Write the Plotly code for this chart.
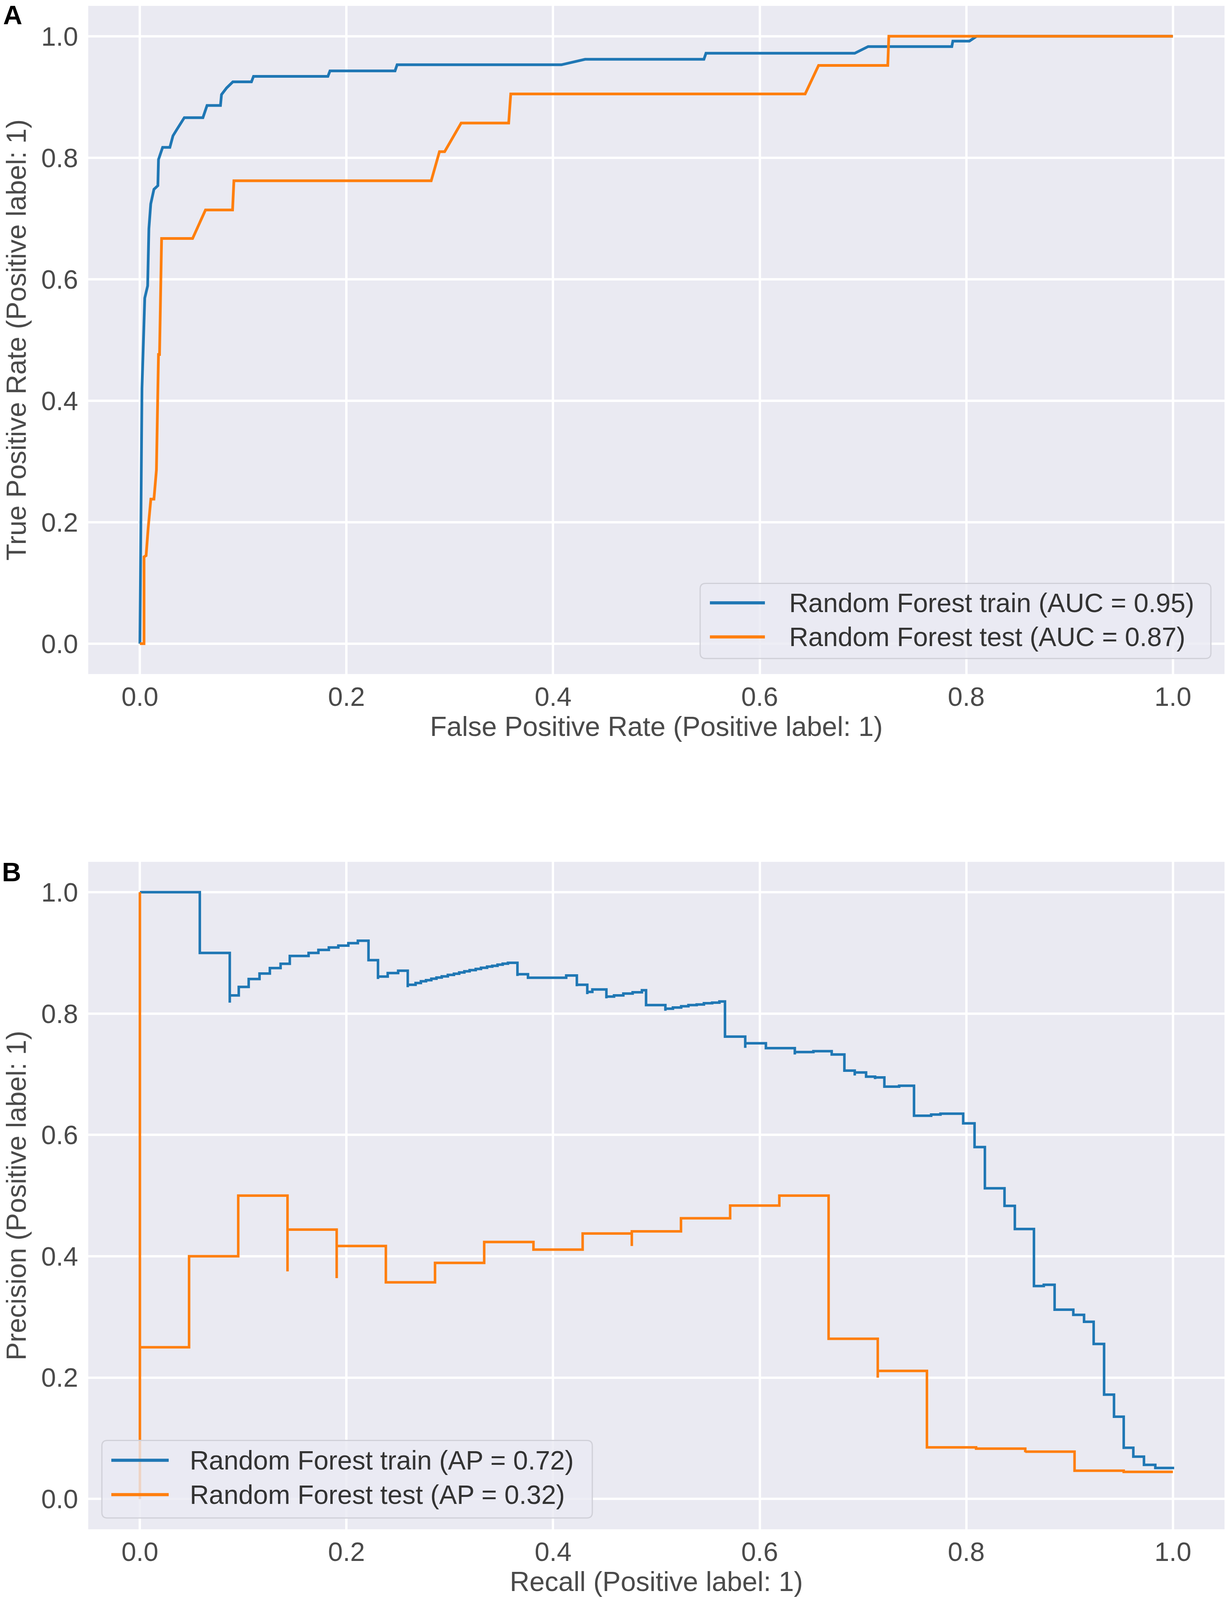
import plotly.graph_objects as go

# ---------------- data ----------------
roc_train_fpr = [0.0, 0.001, 0.002, 0.0047, 0.0075, 0.0087, 0.0105, 0.0136, 0.0174, 0.018, 0.022, 0.029,
                 0.032, 0.0356, 0.043, 0.061, 0.065, 0.078, 0.079, 0.084, 0.09, 0.108, 0.110, 0.182, 0.184,
                 0.247, 0.249, 0.408, 0.431, 0.546, 0.548, 0.692, 0.705, 0.786, 0.787, 0.803, 0.810, 1.0]
roc_train_tpr = [0.0, 0.22, 0.42, 0.569, 0.589, 0.683, 0.724, 0.748, 0.754, 0.797, 0.817, 0.817,
                 0.836, 0.846, 0.866, 0.866, 0.886, 0.886, 0.904, 0.915, 0.925, 0.925, 0.934, 0.934, 0.943,
                 0.943, 0.953, 0.953, 0.962, 0.962, 0.972, 0.972, 0.983, 0.983, 0.992, 0.992, 1.0, 1.0]

roc_test_fpr = [0.0, 0.004, 0.004, 0.006, 0.008, 0.0106, 0.0136, 0.016, 0.018, 0.019, 0.021, 0.051,
                0.0635, 0.0897, 0.091, 0.282, 0.290, 0.295, 0.311, 0.357, 0.359, 0.644, 0.657, 0.724,
                0.725, 1.0]
roc_test_tpr = [0.0, 0.0, 0.143, 0.145, 0.19, 0.238, 0.238, 0.286, 0.476, 0.476, 0.667, 0.667,
                0.714, 0.714, 0.762, 0.762, 0.810, 0.810, 0.857, 0.857, 0.905, 0.905, 0.952, 0.952,
                1.0, 1.0]

pr_train_recall = [0.0, 0.058, 0.087, 0.087, 0.0957, 0.1053, 0.1158, 0.1258, 0.1362, 0.1451, 0.1633,
                   0.1728, 0.1829, 0.1921, 0.2018, 0.211, 0.2213, 0.2305, 0.2305, 0.2399, 0.25, 0.2593,
                   0.2593, 0.2669, 0.2720, 0.2770, 0.2821, 0.2871, 0.2922, 0.2981, 0.3040, 0.3091,
                   0.3141, 0.3192, 0.3251, 0.3302, 0.3361, 0.3411, 0.3462, 0.3512, 0.3563, 0.3655,
                   0.3655, 0.3757, 0.4127, 0.423, 0.423, 0.4331, 0.4331, 0.438, 0.4516, 0.4516, 0.459,
                   0.468, 0.477, 0.486, 0.490, 0.5087, 0.5087, 0.516, 0.524, 0.531, 0.539, 0.546, 0.554,
                   0.561, 0.5664, 0.586, 0.586, 0.606, 0.634, 0.634, 0.652, 0.6697, 0.682, 0.692, 0.692,
                   0.703, 0.7117, 0.7117, 0.7207, 0.735, 0.7494, 0.766, 0.775, 0.797, 0.808, 0.818,
                   0.837, 0.847, 0.8655, 0.875, 0.8855, 0.9036, 0.914, 0.9233, 0.9334, 0.943, 0.9524,
                   0.9617, 0.972, 0.983, 1.0]
pr_train_precision = [1.0, 0.90, 0.818, 0.830, 0.844, 0.857, 0.866, 0.875, 0.882, 0.895, 0.900,
                      0.905, 0.909, 0.912, 0.916, 0.920, 0.888, 0.857, 0.861, 0.8667, 0.8706, 0.8435,
                      0.8474, 0.8503, 0.8532, 0.8551, 0.8574, 0.8594, 0.8613, 0.8638, 0.8657, 0.8677,
                      0.8696, 0.8716, 0.8735, 0.8754, 0.8774, 0.8787, 0.8806, 0.8822, 0.8837, 0.862,
                      0.8648, 0.859, 0.8628, 0.845, 0.8474, 0.832, 0.8357, 0.8397, 0.8251, 0.828, 0.830,
                      0.833, 0.835, 0.8385, 0.814, 0.8046, 0.808, 0.810, 0.812, 0.814, 0.815, 0.817, 0.818,
                      0.820, 0.762, 0.7435, 0.751, 0.743, 0.7325, 0.7365, 0.738, 0.7325, 0.706, 0.698, 0.703,
                      0.696, 0.692, 0.6947, 0.6796, 0.681, 0.6316, 0.6335, 0.635, 0.619, 0.580, 0.512,
                      0.483, 0.445, 0.351, 0.353, 0.312, 0.3035, 0.292, 0.2555, 0.172, 0.1355, 0.0844,
                      0.0697, 0.0563, 0.051, 0.049]

pr_test_recall = [0.0, 0.0, 0.0, 0.0476, 0.0952, 0.1429, 0.1429, 0.1905, 0.1905, 0.2381, 0.2857,
                  0.3333, 0.381, 0.4286, 0.4762, 0.4762, 0.5238, 0.5714, 0.619, 0.6667, 0.7143, 0.7143,
                  0.7619, 0.8095, 0.8571, 0.8571, 0.9048, 0.9524, 1.0]
pr_test_precision = [0.0, 1.0, 0.25, 0.40, 0.50, 0.375, 0.444, 0.364, 0.417, 0.357, 0.389,
                     0.4235, 0.411, 0.4375, 0.417, 0.441, 0.4626, 0.4835, 0.50, 0.264, 0.20, 0.211,
                     0.085, 0.083, 0.077, 0.078, 0.0466, 0.0447, 0.0447]

tick_vals = [0.0, 0.2, 0.4, 0.6, 0.8, 1.0]
tick_text = ["0.0", "0.2", "0.4", "0.6", "0.8", "1.0"]

roc_names = ["Random Forest train (AUC = 0.95)", "Random Forest test (AUC = 0.87)"]
pr_names = ["Random Forest train (AP = 0.72)", "Random Forest test (AP = 0.32)"]

BLUE = "#1f77b4"
ORANGE = "#ff7f0e"
BG = "#eaeaf2"
FONT = "Arial, 'Liberation Sans', sans-serif"
TICK_COLOR = "#4a4a4a"

fig = go.Figure()

fig.add_trace(go.Scatter(x=roc_train_fpr, y=roc_train_tpr, mode="lines", name=roc_names[0],
                         line=dict(color=BLUE, width=7), xaxis="x", yaxis="y", showlegend=False))
fig.add_trace(go.Scatter(x=roc_test_fpr, y=roc_test_tpr, mode="lines", name=roc_names[1],
                         line=dict(color=ORANGE, width=7), xaxis="x", yaxis="y", showlegend=False))
fig.add_trace(go.Scatter(x=pr_train_recall, y=pr_train_precision, mode="lines", name=pr_names[0],
                         line=dict(color=BLUE, width=6.5, shape="hv"), xaxis="x2", yaxis="y2",
                         showlegend=False))
fig.add_trace(go.Scatter(x=pr_test_recall, y=pr_test_precision, mode="lines", name=pr_names[1],
                         line=dict(color=ORANGE, width=6.5, shape="hv"), xaxis="x2", yaxis="y2",
                         showlegend=False))

axis_common = dict(
    range=[-0.05, 1.05], tickvals=tick_vals, ticktext=tick_text,
    showgrid=True, gridcolor="white", gridwidth=6, zeroline=False, showline=False,
    ticks="", tickfont=dict(family=FONT, size=68, color=TICK_COLOR),
)
title_font = dict(family=FONT, size=70, color=TICK_COLOR)

FIG_W, FIG_H = 3150, 4090

fig.update_layout(
    width=FIG_W, height=FIG_H,
    margin=dict(l=226, r=14, t=15, b=175, autoexpand=False),
    paper_bgcolor="white", plot_bgcolor=BG,
    font=dict(family=FONT),
    showlegend=False,
    xaxis=dict(axis_common, domain=[0, 1], anchor="y", ticklabelstandoff=12,
               title=dict(text="False Positive Rate (Positive label: 1)", font=title_font, standoff=6)),
    yaxis=dict(axis_common, domain=[0.5614, 1.0], anchor="x", ticklabelstandoff=25,
               title=dict(text="True Positive Rate (Positive label: 1)", font=title_font, standoff=15)),
    xaxis2=dict(axis_common, domain=[0, 1], anchor="y2", ticklabelstandoff=12,
                title=dict(text="Recall (Positive label: 1)", font=title_font, standoff=6)),
    yaxis2=dict(axis_common, domain=[0.0, 0.4381], anchor="x2", ticklabelstandoff=25,
                title=dict(text="Precision (Positive label: 1)", font=title_font, standoff=15)),
)


def rounded_rect(x0, x1, y0, y1, rx, ry):
    return (f"M {x0 + rx},{y0} L {x1 - rx},{y0} Q {x1},{y0} {x1},{y0 + ry} "
            f"L {x1},{y1 - ry} Q {x1},{y1} {x1 - rx},{y1} "
            f"L {x0 + rx},{y1} Q {x0},{y1} {x0},{y1 - ry} "
            f"L {x0},{y0 + ry} Q {x0},{y0} {x0 + rx},{y0} Z")


def add_legend(xa, ya, box, rows, line_x, text_x, names, plot_w, plot_h):
    x0, x1, y0, y1 = box
    fig.add_shape(type="path", xref=f"{xa} domain", yref=f"{ya} domain",
                  path=rounded_rect(x0, x1, y0, y1, 14 / plot_w, 14 / plot_h),
                  fillcolor="rgba(234,234,242,0.8)", line=dict(color="#d0d0d8", width=3),
                  layer="above")
    for name, color, yy in zip(names, [BLUE, ORANGE], rows):
        fig.add_shape(type="line", xref=f"{xa} domain", yref=f"{ya} domain",
                      x0=line_x[0], x1=line_x[1], y0=yy, y1=yy,
                      line=dict(color=color, width=8), layer="above")
        fig.add_annotation(xref=f"{xa} domain", yref=f"{ya} domain", x=text_x, y=yy,
                           text=name, showarrow=False, xanchor="left", yanchor="middle",
                           font=dict(family=FONT, size=68, color="#333333"))


PW = 2910
PH_A = (FIG_H - 15 - 175) * (1.0 - 0.5614)
PH_B = (FIG_H - 15 - 175) * 0.4381
add_legend("x", "y", (0.5385, 0.9880, 0.0233, 0.1356), (0.1065, 0.0556),
           (0.5471, 0.5955), 0.6162, roc_names, PW, PH_A)
add_legend("x2", "y2", (0.0120, 0.4436, 0.0170, 0.1331), (0.1034, 0.0520),
           (0.0203, 0.0708), 0.0887, pr_names, PW, PH_B)

# panel letters
fig.add_annotation(xref="paper", yref="paper", x=-0.0755, y=0.9942, text="<b>A</b>",
                   showarrow=False, xanchor="left", yanchor="middle",
                   font=dict(family=FONT, size=68, color="black"))
fig.add_annotation(xref="paper", yref="paper", x=-0.0765, y=0.4316, text="<b>B</b>",
                   showarrow=False, xanchor="left", yanchor="middle",
                   font=dict(family=FONT, size=68, color="black"))

fig.write_html("out.html", config={"displayModeBar": False},
               post_script="document.body.style.margin='0';")
